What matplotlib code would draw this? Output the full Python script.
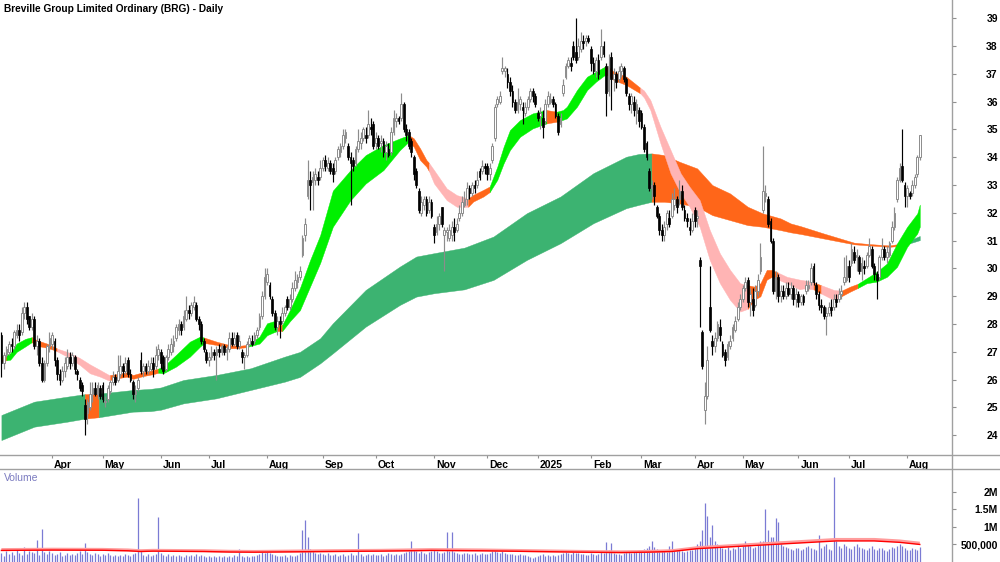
import numpy as np
import pandas as pd
import matplotlib
matplotlib.use("Agg")
import matplotlib.pyplot as plt
import matplotlib.transforms as mtrans
from matplotlib import font_manager
from matplotlib.lines import Line2D

# ---------------- data ----------------
holidays = ['2024-03-29', '2024-04-01', '2024-04-25', '2024-06-10', '2024-12-25', '2024-12-26',
            '2025-01-01', '2025-01-27', '2025-04-18', '2025-04-21', '2025-04-25', '2025-06-09']
start_date, end_date = '2024-03-01', '2025-08-08'

open_ = [
    27.6,26.6,26.9,27.0,27.3,27.2,27.6,27.8,27.7,28.4,28.6,28.3,27.9,28.2,27.2,27.4,26.6,26.0,26.6,27.2,
    27.3,27.4,26.7,26.2,26.0,26.3,26.5,26.8,26.6,26.8,26.3,26.0,25.8,25.1,24.8,25.0,25.5,25.7,25.5,25.7,
    25.8,25.2,25.3,25.6,25.9,26.1,26.0,26.2,26.5,26.3,26.7,26.2,25.9,25.5,25.7,26.7,26.3,26.5,26.3,26.4,26.6,26.5,26.9,
    27.0,26.8,26.4,26.8,27.0,27.2,27.5,27.8,28.0,27.9,28.2,28.5,28.4,28.6,28.7,28.2,28.0,27.4,27.0,
    26.7,26.8,27.0,26.9,27.1,27.0,27.2,27.0,27.1,27.5,27.3,27.6,27.2,27.0,26.8,26.9,27.3,27.4,27.4,27.6,27.9,28.3,29.0,
    29.5,29.4,28.9,28.4,27.9,28.1,28.1,28.4,28.9,28.6,28.9,29.3,29.5,29.7,30.5,31.2,32.6,33.2,33.1,33.2,33.3,33.3,
    33.6,33.9,33.6,33.8,33.6,33.5,34.0,34.2,34.4,34.7,34.4,34.0,33.9,33.8,34.3,34.5,34.7,34.8,34.8,35.1,35.2,
    34.5,34.7,34.5,34.6,34.2,34.3,34.2,34.9,35.3,35.4,35.4,35.9,35.0,34.9,34.6,34.0,33.5,32.8,32.0,32.3,32.5,32.1,32.4,
    31.5,31.3,31.6,32.2,31.2,31.3,31.1,31.2,31.5,31.4,31.8,32.0,32.3,32.5,32.9,32.7,33.0,33.0,33.5,33.5,33.7,
    33.7,33.4,33.9,34.7,35.9,36.0,37.1,37.1,37.0,36.7,36.4,36.0,35.7,35.9,35.8,35.6,35.8,36.1,36.4,36.2,
    35.6,35.5,35.4,35.3,35.9,36.0,36.1,35.9,35.5,35.2,36.3,36.9,37.3,37.4,38.0,37.8,37.6,37.9,38.2,38.2,38.3,
    37.9,37.4,37.1,37.5,37.6,38.0,37.3,36.4,37.6,36.8,37.0,36.8,37.1,37.2,36.8,36.2,35.9,36.0,35.6,35.7,
    35.6,35.1,34.5,33.5,32.9,33.0,32.2,31.9,31.4,31.2,31.6,31.8,31.9,32.3,32.5,32.5,32.8,32.1,31.8,31.5,31.4,
    32.1,31.8,30.3,27.7,24.9,25.4,28.6,27.4,27.2,27.5,27.9,27.3,27.0,26.8,27.2,27.5,27.8,28.2,28.6,
    28.9,29.3,29.6,28.8,28.9,28.7,29.2,29.9,32.1,32.6,32.5,31.7,31.0,29.2,29.7,29.0,29.2,29.0,29.3,29.1,29.3,28.9,
    29.1,28.8,29.0,29.2,29.3,29.5,30.1,29.4,29.1,28.7,28.6,28.3,28.4,28.6,28.6,28.9,28.9,29.1,29.5,29.6,
    30.1,30.2,30.6,30.4,30.4,29.9,30.1,30.1,30.5,30.7,30.1,29.8,29.7,30.4,30.7,30.4,30.5,31.0,31.5,32.5,33.2,33.7,33.0,
    32.6,32.7,32.7,33.0,33.4,34.0]
close = [
    26.6,26.9,27.1,27.3,27.2,27.7,27.8,27.6,28.4,28.6,28.2,27.9,28.2,27.2,27.4,26.6,26.0,26.6,27.2,27.5,
    27.6,26.7,26.2,26.0,26.3,26.6,26.8,26.6,26.9,26.4,26.2,25.7,25.6,24.6,25.2,25.5,25.7,25.5,25.8,25.4,
    25.3,25.2,25.7,25.9,26.1,25.9,26.3,26.5,26.3,26.6,26.2,26.0,25.5,25.6,26.0,26.3,26.5,26.3,26.5,26.6,26.4,26.9,27.1,
    26.6,26.3,26.8,27.1,27.3,27.4,27.9,28.0,27.8,28.3,28.5,28.4,28.7,28.8,28.2,28.0,27.4,27.1,26.7,
    26.8,27.0,26.9,27.1,27.0,27.2,27.0,27.1,27.5,27.3,27.5,27.2,27.4,26.8,26.9,27.3,27.5,27.3,27.6,27.8,28.3,29.0,29.7,
    29.8,29.0,28.4,27.9,28.1,28.0,28.4,28.6,28.6,28.9,29.3,29.6,29.7,29.9,31.1,31.6,33.2,33.0,33.3,33.4,33.2,33.6,
    33.9,33.7,33.8,33.5,33.4,33.9,34.3,34.4,34.8,34.9,34.0,33.8,33.7,34.3,34.6,34.7,35.0,34.7,35.2,35.0,34.4,
    34.7,34.4,34.6,34.2,34.4,34.1,34.9,35.4,35.4,35.3,35.9,35.0,34.8,34.4,34.2,33.4,33.0,32.1,32.4,32.5,32.0,32.4,31.9,
    31.2,31.6,31.9,31.6,31.4,31.4,31.4,31.5,31.3,31.6,32.0,32.4,32.5,32.9,32.7,33.0,32.9,33.2,33.3,33.7,33.6,
    33.4,33.6,34.4,35.8,36.1,36.2,37.2,37.2,36.7,36.4,36.0,35.7,36.0,36.1,35.7,35.8,36.1,36.4,36.2,35.9,
    35.4,35.6,35.1,35.9,36.2,36.1,35.9,35.5,34.9,35.4,36.6,37.3,37.5,37.3,37.6,37.5,38.0,38.2,38.1,38.3,38.2,
    37.4,37.1,37.5,37.0,38.0,37.7,36.3,37.3,36.8,37.0,36.7,37.1,37.3,36.8,36.3,35.9,36.2,35.7,35.9,35.3,
    35.1,34.3,34.0,32.9,33.0,32.6,31.9,31.4,31.2,31.5,32.0,31.6,32.5,32.5,32.2,32.8,32.2,31.8,31.7,31.4,31.7,
    31.7,31.9,30.1,26.5,25.4,26.7,27.8,27.2,27.5,28.0,27.6,26.9,26.7,27.3,27.4,27.9,28.1,28.6,28.9,
    29.3,29.5,28.8,29.1,28.5,29.2,29.6,30.4,32.8,32.7,31.6,31.0,29.2,29.7,29.0,29.2,29.0,29.3,29.1,29.3,28.9,29.1,
    28.8,29.0,28.8,29.4,29.4,30.0,29.5,29.1,28.7,28.6,28.3,28.4,28.6,28.5,28.9,28.8,29.1,29.2,29.7,30.1,
    29.7,30.7,30.3,30.5,29.9,30.2,30.0,30.5,30.8,30.1,29.8,29.6,30.4,30.7,30.4,30.6,30.9,31.5,32.0,33.2,33.6,33.2,32.6,
    32.9,32.6,33.0,33.3,34.0,34.8]
high = [
    27.7,27.0,27.2,27.4,27.5,27.8,28.0,28.0,28.6,28.8,28.8,28.3,28.4,28.3,27.6,27.5,26.8,26.7,27.3,27.7,
    27.7,27.5,26.8,26.4,26.5,26.8,27.1,27.0,27.0,26.9,26.4,26.1,25.9,25.3,25.3,25.9,25.9,25.9,25.9,25.8,
    25.9,25.4,25.8,26.0,26.3,26.2,26.9,26.9,26.6,26.8,26.8,26.4,26.0,25.8,26.1,27.0,26.6,26.6,26.7,26.8,26.8,27.2,27.3,
    27.1,26.9,26.9,27.3,27.5,27.6,28.0,28.2,28.1,28.5,29.0,28.7,28.8,29.0,28.8,28.3,28.1,27.5,27.1,
    27.0,27.2,27.1,27.2,27.3,27.3,27.3,27.2,27.7,27.7,27.7,27.7,27.6,27.1,27.0,27.4,27.6,27.6,27.7,27.9,28.4,29.2,30.0,
    30.0,29.5,29.0,28.5,28.3,28.3,28.6,28.7,29.0,29.1,29.5,29.9,29.8,30.1,31.2,31.8,33.9,33.5,33.5,33.6,33.5,33.9,
    34.0,34.1,34.0,33.9,33.8,34.0,34.4,34.5,35.0,35.0,34.5,34.2,34.0,34.4,35.0,34.9,35.1,35.1,35.7,35.4,35.3,
    34.9,34.8,34.8,34.7,34.6,34.5,35.1,35.7,35.6,35.5,36.3,36.0,35.2,35.0,34.7,34.1,33.6,32.9,32.6,32.6,32.6,32.6,32.5,
    31.6,31.9,32.0,32.2,31.5,31.5,31.6,31.7,31.8,31.8,32.3,32.6,32.8,33.1,33.0,33.1,33.2,33.5,33.6,33.9,33.8,
    33.8,33.8,34.5,35.9,36.2,36.4,37.6,37.3,37.2,36.9,36.6,36.1,36.5,36.2,36.0,36.0,36.2,36.5,36.5,36.3,
    35.7,35.8,35.7,36.1,36.4,36.3,36.2,36.0,35.6,35.6,36.8,37.4,37.6,37.6,38.2,39.0,38.3,38.5,38.4,38.4,38.4,
    38.0,37.6,37.6,37.7,38.6,38.2,37.4,37.7,37.8,37.2,37.1,37.3,37.4,37.3,36.9,36.3,36.3,36.2,36.1,35.8,
    35.7,35.2,34.6,33.6,33.2,33.1,32.3,32.0,31.6,31.7,32.1,32.1,32.7,32.9,32.6,33.2,33.0,32.3,32.0,31.8,32.0,
    32.2,32.1,30.4,27.8,25.9,27.2,30.1,27.6,27.7,28.1,28.2,27.4,27.1,27.4,27.6,28.0,28.3,28.8,29.1,
    29.4,29.7,29.7,29.3,29.3,29.4,29.8,30.9,34.4,33.0,32.6,31.8,31.1,29.9,29.8,29.4,29.4,29.5,29.5,29.5,29.4,29.3,
    29.2,29.1,29.1,29.6,29.6,30.2,30.2,29.5,29.2,28.9,28.7,28.6,28.8,28.9,29.1,29.1,29.3,29.4,30.4,30.5,
    30.3,30.9,30.8,30.7,30.5,30.4,30.3,30.6,31.1,30.8,30.2,29.9,30.5,31.1,30.8,30.8,31.0,31.7,32.2,33.3,33.8,35.0,33.1,
    33.0,32.8,33.2,33.4,34.1,34.8]
low = [
    26.1,26.4,26.8,26.9,27.0,27.1,27.5,27.4,27.6,28.2,28.0,27.8,27.8,27.1,26.9,26.5,25.9,25.9,26.5,27.0,
    27.1,26.5,26.0,25.8,25.9,26.1,26.4,26.4,26.5,26.2,26.0,25.6,25.4,24.0,24.4,24.9,25.2,25.4,25.3,25.3,
    25.2,25.0,25.2,25.5,25.8,25.8,25.9,26.1,26.1,26.2,26.1,25.9,25.3,25.2,25.6,26.2,26.1,26.2,26.2,26.3,26.1,26.4,26.7,
    26.4,26.2,26.3,26.7,26.9,27.0,27.4,27.6,27.6,27.8,28.1,28.2,28.3,28.5,28.1,27.8,27.3,27.0,26.6,
    26.5,26.7,26.7,26.0,26.8,26.9,26.9,26.7,27.0,27.2,27.2,27.1,27.1,26.6,26.4,26.8,27.2,27.2,27.3,27.5,27.8,28.2,28.9,
    29.4,28.9,28.3,27.8,27.6,27.5,28.0,28.3,28.5,28.5,28.8,29.2,29.3,29.6,30.4,31.0,32.5,32.1,32.1,33.0,33.0,33.2,
    33.5,33.5,33.5,33.4,33.1,33.4,33.9,34.0,34.3,34.5,33.9,32.3,33.5,33.7,34.2,34.3,34.6,34.5,34.7,34.8,34.3,
    34.3,34.3,34.2,34.0,33.9,34.0,34.1,34.8,35.1,35.2,35.3,34.9,34.6,34.3,34.0,33.2,32.9,32.0,31.9,32.1,31.9,32.0,31.8,
    30.9,31.2,31.4,31.5,29.9,31.0,31.0,31.0,31.0,31.3,31.7,31.9,32.2,32.3,32.5,32.6,32.7,32.9,33.2,33.4,33.4,
    33.2,33.2,33.8,34.6,35.8,35.9,37.0,36.9,36.5,36.2,35.8,35.6,35.6,35.7,35.2,35.5,35.7,36.0,36.0,35.8,
    35.3,35.0,34.7,35.2,35.8,35.9,35.8,35.4,34.8,35.1,36.2,36.8,37.2,37.1,37.5,37.4,37.5,37.8,37.9,38.0,38.1,
    37.1,37.0,36.9,36.8,37.5,37.6,35.5,36.2,35.7,36.4,36.5,36.7,36.9,36.7,36.2,35.7,35.6,35.5,35.2,35.1,
    35.0,34.2,33.9,32.8,32.5,32.3,31.8,31.2,31.0,31.0,31.4,31.5,31.8,32.1,32.0,32.3,32.1,31.7,31.5,31.2,31.3,
    31.5,31.5,27.9,26.4,24.4,25.3,27.7,26.9,27.0,27.4,27.4,26.8,26.5,26.7,27.1,27.4,27.7,28.1,28.5,
    28.8,29.2,28.6,28.3,28.3,28.6,29.0,29.8,32.0,32.4,31.5,30.9,29.1,28.9,28.8,28.8,28.9,28.9,29.0,28.9,28.7,28.6,
    28.6,28.7,28.7,29.1,29.2,29.4,29.4,28.9,28.5,28.4,28.2,27.6,28.3,28.3,28.5,28.6,28.8,28.9,29.4,29.5,
    29.5,30.1,30.2,29.9,29.8,29.6,29.8,30.0,30.4,30.0,29.6,28.9,29.6,30.3,30.3,30.2,30.4,30.9,31.4,32.4,33.1,33.1,32.2,
    32.2,32.5,32.6,32.9,33.3,33.9]

volume_k = [
    250,180,300,220,280,200,350,260,200,420,230,300,280,250,620,210,950,280,220,300,
    260,200,230,280,180,210,250,190,230,200,260,300,240,540,280,220,200,260,230,180,
    220,200,250,190,170,210,180,200,160,230,190,170,220,250,1830,300,200,180,220,160,190,230,1290,
    250,200,180,220,170,190,160,200,180,150,210,170,190,160,230,180,200,170,150,
    160,140,180,150,170,130,160,140,180,150,200,170,380,160,150,180,140,170,160,190,230,280,260,
    300,250,230,200,180,170,160,190,150,200,170,180,210,250,920,1190,710,380,300,250,220,260,
    230,200,250,210,190,220,180,200,230,170,200,250,190,210,830,240,180,200,220,190,230,
    210,190,230,180,200,250,220,190,240,210,230,250,280,300,590,350,300,270,320,260,240,280,300,
    330,300,260,250,280,860,300,860,290,260,240,230,250,270,220,240,260,210,230,250,220,
    240,260,300,350,280,260,300,250,230,240,220,200,210,230,190,200,180,150,120,140,
    160,200,220,180,190,170,200,180,210,230,260,280,250,230,300,270,250,230,220,200,210,
    250,230,210,240,280,260,560,350,550,250,220,230,200,250,280,300,260,280,300,350,
    320,380,400,450,600,420,380,350,330,300,280,450,600,380,350,330,300,280,310,330,350,
    400,500,600,900,1670,1310,700,1050,600,500,450,400,380,420,350,400,380,450,400,
    450,590,500,450,400,420,500,600,600,1520,900,700,700,1240,1140,500,450,420,400,380,350,400,
    400,350,380,420,450,400,380,350,760,400,450,500,380,350,2430,600,450,400,500,450,
    400,380,450,500,420,400,380,350,400,450,380,350,400,410,350,300,380,420,400,450,500,450,400,
    350,330,400,380,350,420]

# volume moving-average line, read at bar positions
vma_x = [0, 20, 40, 50, 55, 60, 80, 90, 100, 115, 130, 150, 170, 190, 210, 230, 245, 255, 265,
         275, 285, 300, 315, 330, 345, 355, 363]
vma_k = [330, 340, 335, 320, 300, 310, 300, 285, 280, 290, 300, 310, 330, 320, 300, 280, 270, 280, 300,
         380, 420, 480, 540, 600, 600, 560, 500]

# short-term moving-average ribbon (edges read at bar positions, colour of following segment)
short_x = [0, 2, 3.5, 6, 9.5, 12, 14, 18, 21.5, 22, 26, 31, 35, 39, 42.5, 43, 45.7, 49.7, 52, 56, 60,
           62, 64, 69, 74.5, 78.5, 80, 81, 85, 90, 94, 97, 98, 102, 105, 107.5, 109, 111, 114, 118, 122,
           126, 131, 138, 144, 151, 157.5, 161, 163, 165.5, 168, 169, 171, 176, 180, 184.5, 186.5, 190.5,
           193, 196, 198.5, 201, 205, 210, 215.5, 219.5, 222, 223.5, 227.5, 231.5, 235, 238.5, 240, 242,
           247, 252.5, 254, 256.5, 260.5, 264.5, 268.5, 272, 276, 280, 284, 288, 292, 295, 297.5, 300,
           302.5, 304.5, 307, 310.5, 315.5, 317, 321, 324, 329, 332, 335.5, 338.5, 342, 346, 350, 354,
           358, 362, 363]
short_top = [26.85, 26.9, 26.95, 27.3, 27.47, 27.53, 27.42, 27.3, 27.15, 27.12, 27.0, 26.78, 26.55, 26.35,
             26.17, 26.17, 26.2, 26.27, 26.17, 26.27, 26.35, 26.4, 26.47, 26.89, 27.37, 27.55, 27.52,
             27.49, 27.37, 27.25, 27.22, 27.25, 27.3, 27.55, 28.03, 28.1, 28.0, 27.97, 28.5, 29.3, 30.3,
             31.2, 32.8, 33.54, 34.08, 34.44, 34.68, 34.8, 34.68, 34.32, 33.9, 33.8, 33.54, 32.88, 32.64,
             32.52, 32.65, 32.83, 32.95, 33.66, 34.38, 34.98, 35.34, 35.58, 35.7, 35.64, 35.7, 35.82,
             36.42, 36.9, 37.08, 37.26, 37.25, 37.08, 36.9, 36.5, 36.4, 36.06, 35.1, 34.26, 33.42, 32.94,
             32.46, 31.38, 30.54, 29.95, 29.47, 29.4, 29.35, 29.47, 29.95, 29.95, 29.85, 29.7, 29.6,
             29.58, 29.5, 29.4, 29.23, 29.2, 29.35, 29.45, 29.65, 29.88, 30.18, 30.9, 31.5, 31.98, 32.3]
short_bot = [26.65, 26.7, 26.72, 27.0, 27.2, 27.35, 27.22, 27.15, 27.05, 27.02, 26.83, 26.53, 26.23, 26.11,
             25.97, 25.99, 26.05, 26.11, 26.03, 26.13, 26.2, 26.25, 26.23, 26.47, 26.83, 27.19, 27.3,
             27.31, 27.25, 27.13, 27.14, 27.17, 27.2, 27.3, 27.6, 27.7, 27.75, 27.75, 28.1, 28.5, 29.35,
             30.2, 31.5, 32.46, 33.06, 33.54, 34.26, 34.56, 34.38, 33.9, 33.66, 33.5, 33.06, 32.46, 32.22,
             32.22, 32.41, 32.59, 32.75, 33.19, 33.78, 34.26, 34.74, 35.04, 35.22, 35.28, 35.35, 35.4,
             35.82, 36.42, 36.72, 36.96, 36.95, 36.78, 36.6, 36.3, 36.15, 35.7, 34.5, 33.42, 32.7, 32.22,
             31.5, 30.3, 29.47, 28.87, 28.45, 28.55, 28.87, 29.0, 29.6, 29.7, 29.6, 29.47, 29.25, 29.28,
             29.25, 29.1, 28.87, 29.0, 29.17, 29.3, 29.47, 29.53, 29.7, 30.06, 30.78, 31.26, 31.5]
short_col = list("OGGGGOOOOPPPPPPOOOOOOGGGGGOOOOOGGGGGOGGGGGGGGGGOOOOPPPPOOOGGGGGGOGGGGGGOOOOPPPPPPPPPPPP"
                 "OOOOOPPPPOPPOOGGGGGGGG")

# long-term moving-average ribbon
long_x = [0, 13, 26, 33, 38.5, 52, 59, 63, 72, 85, 98.5, 112, 118, 126, 131, 144, 157.5, 164, 171, 183,
          194.5, 207.7, 221, 234, 247, 252, 257, 262, 268, 275, 281, 288, 295, 301, 308, 312, 316, 325,
          337, 343, 351, 356, 363]
long_top = [24.73, 25.21, 25.39, 25.48, 25.5, 25.63, 25.67, 25.72, 25.99, 26.17, 26.41, 26.83, 27.0, 27.49,
            28.03, 29.23, 30.07, 30.43, 30.55, 30.75, 31.15, 31.99, 32.59, 33.43, 34.02, 34.12, 34.14,
            34.08, 33.84, 33.6, 33.0, 32.7, 32.22, 31.98, 31.8, 31.62, 31.52, 31.26, 30.93, 30.88, 30.83,
            30.9, 31.17]
long_bot = [23.83, 24.31, 24.49, 24.6, 24.65, 24.85, 24.87, 24.92, 25.15, 25.33, 25.63, 25.93, 26.1, 26.59,
            26.95, 27.91, 28.69, 28.99, 29.11, 29.25, 29.59, 30.31, 30.91, 31.63, 32.17, 32.29, 32.4, 32.4,
            32.34, 32.22, 31.92, 31.74, 31.56, 31.5, 31.38, 31.3, 31.24, 31.08, 30.87, 30.83, 30.78,
            30.82, 31.02]
long_col = list("GGGOGGGGGGGGGGGGGGGGGGGGGGOOOOOOOOOOOOOOOGG")

price_ticks = list(range(24, 40))
vol_ticks = [500000, 1000000, 1500000, 2000000]
vol_tick_labels = ['500,000', '1M', '1.5M', '2M']
title = "Breville Group Limited Ordinary (BRG) - Daily"

# ---------------- build ----------------
dates = pd.bdate_range(start_date, end_date)
dates = dates[~dates.isin(pd.to_datetime(holidays))]
n = min(len(dates), len(open_), len(close), len(high), len(low), len(volume_k))
dates = dates[:n]
O = np.array(open_[:n]); C = np.array(close[:n]); Hh = np.array(high[:n]); Ll = np.array(low[:n])
V = np.array(volume_k[:n]) * 1000.0
x = np.arange(n)

month_idx, month_lab = [], []
for k in range(1, n):
    if dates[k].month != dates[k - 1].month:
        month_idx.append(k)
        month_lab.append(str(dates[k].year) if dates[k].month == 1 else dates[k].strftime('%b'))

names = {f.name for f in font_manager.fontManager.ttflist}
base_font = ['Liberation Sans', 'DejaVu Sans']
plt.rcParams['font.family'] = base_font
narrow = 'Liberation Sans Narrow' in names

W, Hpx = 1000, 562
fig = plt.figure(figsize=(10, 5.62), dpi=100)
ax = fig.add_axes([0, (Hpx - 455) / Hpx, 952 / W, 455 / Hpx])
axv = fig.add_axes([0, 0, 952 / W, (Hpx - 469) / Hpx])

px = 2.53
x0 = -1.4 / px
x1 = (952 - 1.4) / px
ax.set_xlim(x0, x1)
axv.set_xlim(x0, x1)
ax.set_ylim(39 - (455 - 18.3) / 27.8, 39 + 18.3 / 27.8)
axv.set_ylim(0, 2.65e6)

cmap = {'G': '#00f000', 'O': '#ff6619', 'P': '#ffb4b4'}


def ribbon(a, xs, tops, bots, cols, colmap, z):
    xs = np.asarray(xs, float); tops = np.asarray(tops, float); bots = np.asarray(bots, float)
    nseg = len(xs) - 1
    j = 0
    while j < nseg:
        k = j
        while k + 1 < nseg and cols[k + 1] == cols[j]:
            k += 1
        c = colmap[cols[j]]
        a.fill_between(xs[j:k + 2], bots[j:k + 2], tops[j:k + 2], facecolor=c, edgecolor=c,
                       lw=0.3, zorder=z)
        j = k + 1


ribbon(ax, long_x, long_top, long_bot, long_col, {'G': '#3cb371', 'O': '#ff6619'}, 1)
ribbon(ax, short_x, short_top, short_bot, short_col, cmap, 2)

up = C >= O
wick_c = np.where(up, '#8c8c8c', '#000000')
ax.vlines(x, Ll, Hh, colors=wick_c, lw=0.85, zorder=3)
body_b = np.minimum(O, C)
body_h = np.maximum(np.abs(C - O), 0.05)
ax.bar(x[up], body_h[up], bottom=body_b[up], width=0.7, facecolor='white', edgecolor='#8c8c8c',
       lw=0.7, zorder=4)
ax.bar(x[~up], body_h[~up], bottom=body_b[~up], width=0.7, facecolor='black', edgecolor='black',
       lw=0.5, zorder=4)

# volume
axv.vlines(x, 0, V, colors='#7b7bd4', lw=0.9, zorder=2)
vk = np.array(vma_k) * 1000.0
axv.plot(vma_x, vk * 1.07, color='#ff9c9c', lw=2.2, zorder=3, solid_capstyle='butt')
axv.plot(vma_x, vk, color='#ff0000', lw=1.0, zorder=4)

# axes styling
for a in (ax, axv):
    for s in ('left', 'top', 'bottom', 'right'):
        a.spines[s].set_visible(False)
    a.set_facecolor('white')
    a.yaxis.tick_right()
    a.tick_params(axis='y', which='both', right=True, left=False, direction='out', length=3,
                  color='#909090', pad=30, labelsize=7.5)

ax.set_yticks(price_ticks)
ax.set_yticklabels([str(t) for t in price_ticks], fontweight='bold')
axv.set_yticks(vol_ticks)
axv.set_yticklabels(vol_tick_labels, fontweight='bold')
for a in (ax, axv):
    for lab in a.get_yticklabels():
        lab.set_horizontalalignment('right')

ax.set_xticks(month_idx)
ax.set_xticklabels(month_lab, fontweight='bold', fontsize=7.5)
ax.tick_params(axis='x', direction='out', length=2, color='#909090', pad=1.5)
off = mtrans.ScaledTranslation(2 / 100, 0, fig.dpi_scale_trans)
for lab in ax.get_xticklabels():
    lab.set_horizontalalignment('left')
    lab.set_transform(lab.get_transform() + off)
axv.set_xticks([])

# frame lines
line_c = '#a0a0a0'
fig.add_artist(Line2D([952 / W, 952 / W], [0, 1], color=line_c, lw=1.0, transform=fig.transFigure))
fig.add_artist(Line2D([0, 1], [(Hpx - 455) / Hpx] * 2, color=line_c, lw=1.0, transform=fig.transFigure))
fig.add_artist(Line2D([0, 1], [(Hpx - 469) / Hpx] * 2, color=line_c, lw=1.0, transform=fig.transFigure))

fig.text(4 / W, 1 - 8.5 / Hpx, title, ha='left', va='center', fontweight='bold',
         fontsize=9 if narrow else 7.3,
         family=['Liberation Sans Narrow', 'Liberation Sans', 'DejaVu Sans'] if narrow else base_font)
fig.text(4 / W, 1 - 478 / Hpx, 'Volume', ha='left', va='center', fontsize=7.5, color='#7b7bc0')

fig.savefig('out.png', dpi=100, facecolor='white')
